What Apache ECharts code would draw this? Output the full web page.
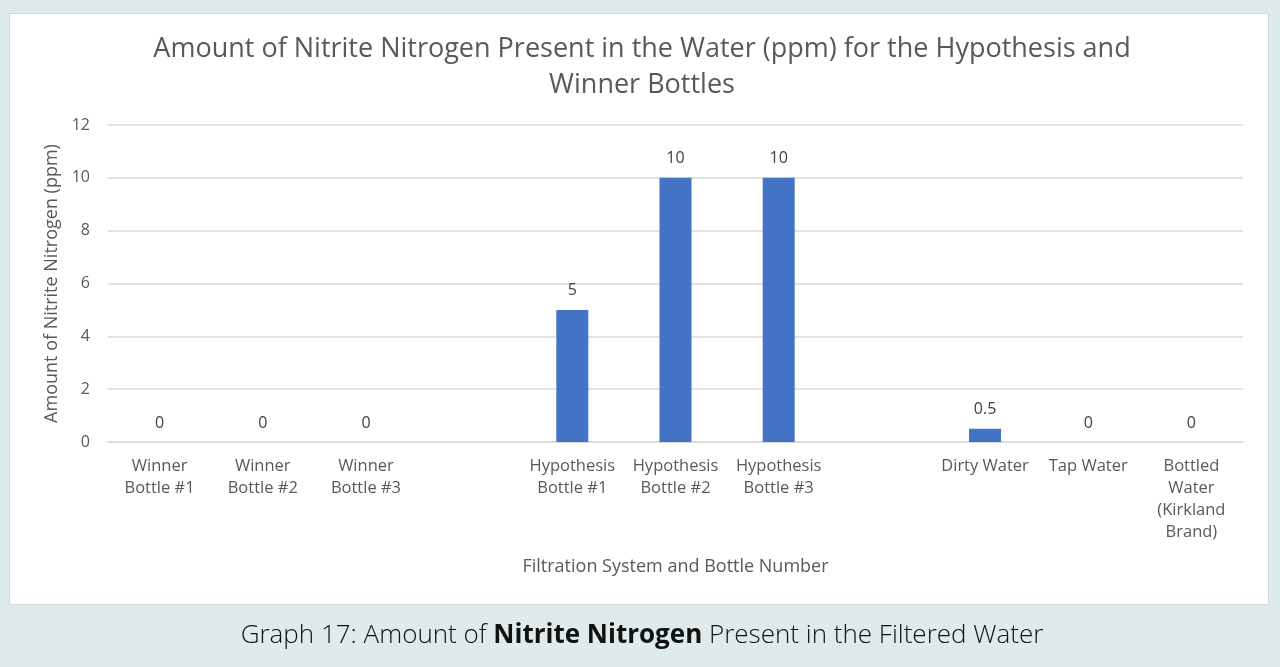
<!DOCTYPE html>
<html>
<head>
    <meta charset="utf-8">
    <title>Nitrite Nitrogen</title>
    <script src="https://cdn.jsdelivr.net/npm/echarts@6/dist/echarts.min.js"></script>
    <style>
        html, body { margin: 0; padding: 0; background: #dfeaea; }
        #main { width: 1280px; height: 667px; }
    </style>
</head>
<body>
    <div id="main"></div>
    <script type="text/javascript">
        // categories (blank ones are the gaps between the groups)
        var categories = [
            'Winner\nBottle #1', 'Winner\nBottle #2', 'Winner\nBottle #3', '',
            'Hypothesis\nBottle #1', 'Hypothesis\nBottle #2', 'Hypothesis\nBottle #3', '',
            'Dirty Water', 'Tap Water', 'Bottled\nWater\n(Kirkland\nBrand)'
        ];
        var nitriteValues = [0, 0, 0, '-', 5, 10, 10, '-', 0.5, 0, 0];
        var yTicks = { min: 0, max: 12, interval: 2 };

        var textColor = '#595959';
        var font = 'Open Sans';

        var myChart = echarts.init(document.getElementById('main'));
        var option = {
            backgroundColor: '#dfeaea',
            textStyle: { fontFamily: font },
            graphic: [{
                type: 'rect',
                z: -10,
                shape: { x: 9.5, y: 13.5, width: 1259, height: 591 },
                style: { fill: '#ffffff', stroke: '#d4d8d8', lineWidth: 1 }
            }],
            title: [{
                text: 'Amount of Nitrite Nitrogen Present in the Water (ppm) for the Hypothesis and\nWinner Bottles',
                left: 637,
                textAlign: 'center',
                top: 26,
                textStyle: {
                    fontFamily: font,
                    fontSize: 27,
                    fontWeight: 'normal',
                    color: textColor,
                    lineHeight: 36
                }
            }, {
                text: '{a|Graph 17: Amount of }{b|Nitrite Nitrogen}{a| Present in the Filtered Water}',
                left: 637,
                textAlign: 'center',
                top: 618,
                textStyle: {
                    rich: {
                        a: { fontFamily: font, fontSize: 26, fontWeight: 300, color: '#111111' },
                        b: { fontFamily: font, fontSize: 26, fontWeight: 'bold', color: '#111111' }
                    }
                }
            }],
            grid: {
                left: 108,
                right: 37,
                top: 125,
                bottom: 225
            },
            xAxis: {
                type: 'category',
                data: categories,
                name: 'Filtration System and Bottle Number',
                nameLocation: 'middle',
                nameGap: 116,
                nameTextStyle: { fontSize: 18, color: textColor, fontFamily: font },
                axisLine: { lineStyle: { color: '#d9d9d9', width: 1.5 } },
                axisTick: { show: false },
                axisLabel: {
                    interval: 0,
                    fontSize: 16.5,
                    lineHeight: 22,
                    margin: 13,
                    color: textColor,
                    fontFamily: font
                }
            },
            yAxis: {
                type: 'value',
                min: yTicks.min,
                max: yTicks.max,
                interval: yTicks.interval,
                name: 'Amount of Nitrite Nitrogen (ppm)',
                nameLocation: 'middle',
                nameGap: 45,
                nameTextStyle: { fontSize: 18, color: textColor, fontFamily: font },
                axisLine: { show: false },
                axisTick: { show: false },
                axisLabel: { fontSize: 16, color: textColor, margin: 18, fontFamily: font },
                splitLine: { lineStyle: { color: '#d9d9d9', width: 1.5 } }
            },
            series: [{
                type: 'bar',
                data: nitriteValues,
                barWidth: 32,
                itemStyle: { color: '#4472c4' },
                label: {
                    show: true,
                    position: 'top',
                    distance: 11,
                    fontSize: 16,
                    color: '#404040',
                    fontFamily: font
                }
            }]
        };
        myChart.setOption(option);
    </script>
</body>
</html>
